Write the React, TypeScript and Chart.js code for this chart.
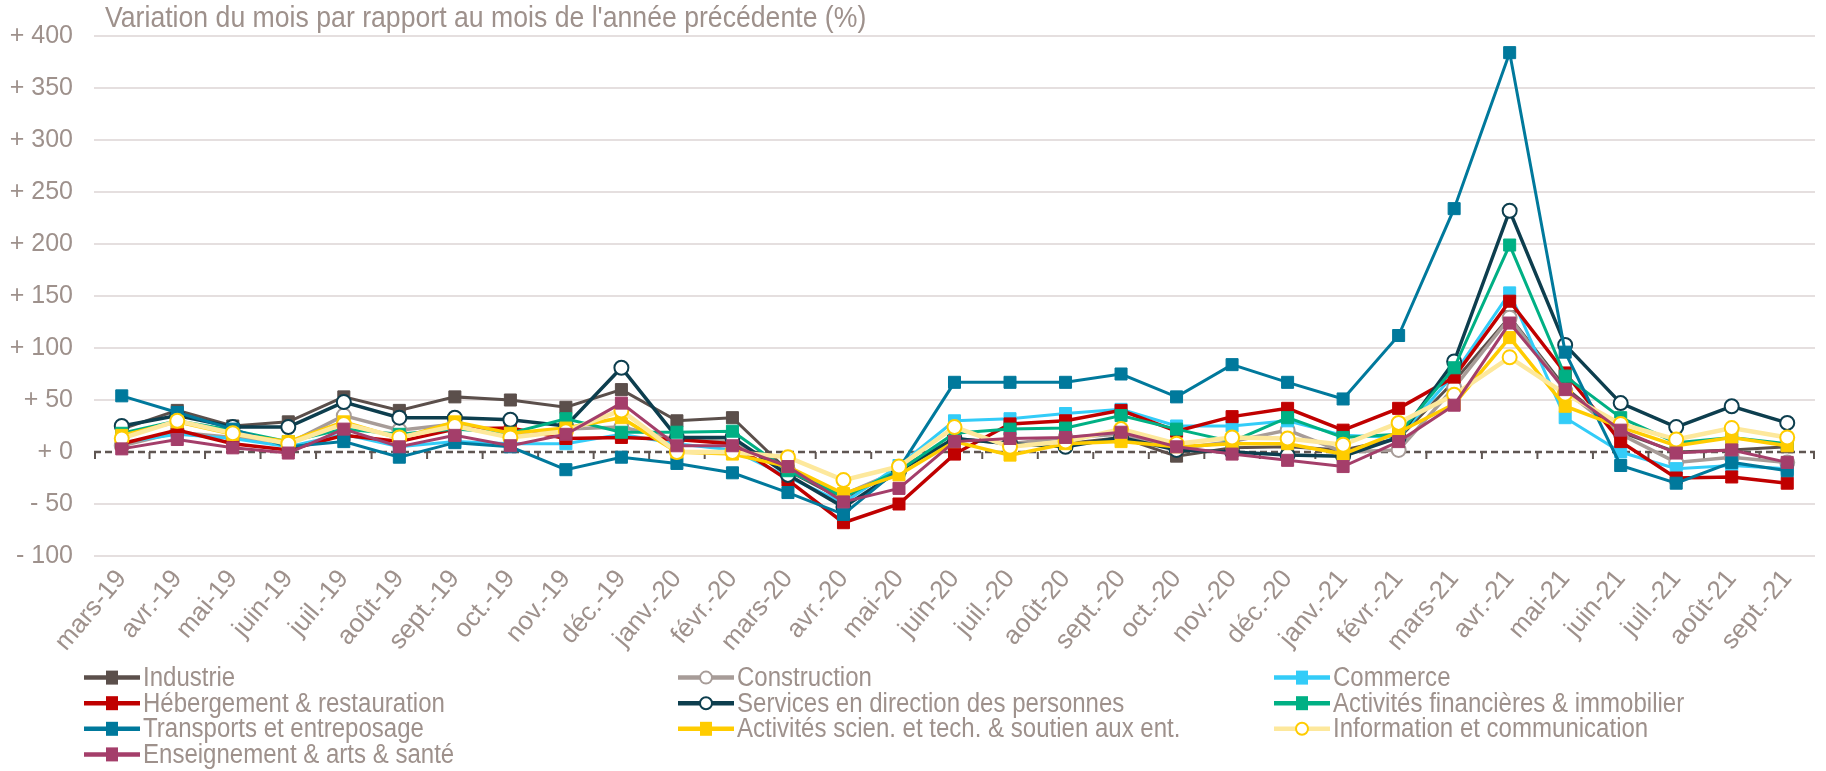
import React, { useEffect, useRef } from 'react';
import { Chart, registerables } from 'chart.js';

Chart.register(...registerables);

const months = ['mars-19', 'avr.-19', 'mai-19', 'juin-19', 'juil.-19', 'août-19', 'sept.-19', 'oct.-19', 'nov.-19', 'déc.-19', 'janv.-20', 'févr.-20', 'mars-20', 'avr.-20', 'mai-20', 'juin-20', 'juil.-20', 'août-20', 'sept.-20', 'oct.-20', 'nov.-20', 'déc.-20', 'janv.-21', 'févr.-21', 'mars-21', 'avr.-21', 'mai-21', 'juin-21', 'juil.-21', 'août-21', 'sept.-21'];

const industrie = [22, 40, 25, 29, 53, 40, 53, 50, 43, 60, 30, 33, -18, -46, -16, 13, 8, 8, 14, -4, 4, 5, 2, 13, 68, 130, 62, 19, 0, 2, 5];
const construction = [6, 19, 14, 8, 35, 21, 27, 16, 22, 24, 12, 10, -18, -41, -18, 13, 8, 14, 17, 3, 10, 21, 0, 2, 62, 129, 59, 17, -10, -5, -10];
const commerce = [9, 17, 13, 5, 17, 5, 10, 8, 8, 17, 8, 2, -24, -49, -13, 30, 32, 37, 41, 25, 25, 30, 16, 14, 75, 153, 33, 0, -16, -13, -16];
const hebergement = [8, 21, 8, 2, 16, 10, 22, 23, 13, 14, 12, 8, -27, -68, -50, -2, 27, 30, 40, 20, 34, 42, 21, 42, 72, 145, 76, 10, -25, -24, -30];
const services = [25, 35, 24, 24, 48, 33, 33, 31, 25, 81, 14, 14, -22, -53, -18, 13, 8, 5, 14, 2, 0, -3, -4, 14, 87, 232, 103, 47, 24, 44, 28];
const financieres = [18, 30, 21, 10, 22, 17, 22, 18, 32, 19, 19, 20, -18, -43, -18, 18, 22, 23, 35, 22, 10, 33, 14, 17, 81, 199, 73, 33, 9, 14, 8];
const transports = [54, 38, 22, 5, 10, -5, 9, 5, -17, -5, -11, -20, -39, -60, -16, 67, 67, 67, 75, 53, 84, 67, 51, 112, 234, 384, 96, -13, -30, -10, -18];
const scien = [16, 29, 17, 10, 29, 13, 29, 18, 23, 33, 0, -2, -14, -40, -22, 10, -3, 8, 10, 5, 8, 8, -2, 19, 46, 110, 44, 24, 6, 14, 6];
const information = [13, 30, 18, 8, 27, 14, 25, 14, 20, 40, 0, 0, -5, -27, -14, 24, 5, 10, 22, 8, 14, 13, 7, 28, 55, 91, 56, 27, 12, 23, 14];
const enseignement = [3, 12, 4, -1, 22, 5, 16, 6, 17, 47, 6, 6, -14, -48, -35, 10, 13, 14, 19, 5, -2, -8, -14, 10, 45, 124, 60, 21, -1, 2, -10];

const yMin = -100;
const yMax = 400;
const yStep = 50;
const titleText = "Variation du mois par rapport au mois de l'année précédente (%)";

const FONT = '"Liberation Sans", Arial, sans-serif';
const TEXT = '#9e918c';

const series = [
  { label: 'Industrie', data: industrie, line: '#5b4f4b', style: 'rect', fill: '#5b4f4b', edge: '#5b4f4b', width: 3 },
  { label: 'Construction', data: construction, line: '#a79c98', style: 'circle', fill: '#ffffff', edge: '#a79c98', width: 3.5 },
  { label: 'Commerce', data: commerce, line: '#33ccf8', style: 'rect', fill: '#33ccf8', edge: '#33ccf8', width: 3 },
  { label: 'Hébergement & restauration', data: hebergement, line: '#c00000', style: 'rect', fill: '#c00000', edge: '#c00000', width: 3.5 },
  { label: 'Services en direction des personnes', data: services, line: '#0d3e4e', style: 'circle', fill: '#ffffff', edge: '#0d3e4e', width: 3.5 },
  { label: 'Activités financières & immobilier', data: financieres, line: '#00b084', style: 'rect', fill: '#00b084', edge: '#00b084', width: 3 },
  { label: 'Transports et entreposage', data: transports, line: '#00799c', style: 'rect', fill: '#00799c', edge: '#00799c', width: 3 },
  { label: 'Activités scien. et tech. & soutien aux ent.', data: scien, line: '#ffcc00', style: 'rect', fill: '#ffcc00', edge: '#ffcc00', width: 3.5 },
  { label: 'Information et communication', data: information, line: '#fde89c', style: 'circle', fill: '#ffffff', edge: '#ffcc00', width: 4.5 },
  { label: 'Enseignement & arts & santé', data: enseignement, line: '#a43e6a', style: 'rect', fill: '#a43e6a', edge: '#a43e6a', width: 3 },
];

function condensedText(ctx: any, text: string, x: number, y: number, size: number, squeeze: number, baseline: string) {
  ctx.save();
  ctx.font = `${size}px ${FONT}`;
  ctx.fillStyle = TEXT;
  ctx.textAlign = 'left';
  ctx.textBaseline = baseline;
  ctx.translate(x, y);
  ctx.scale(squeeze, 1);
  ctx.fillText(text, 0, 0);
  ctx.restore();
}

const titlePlugin = {
  id: 'topTitle',
  afterDraw(chart: any) {
    condensedText(chart.ctx, titleText, chart.chartArea.left + 11, 27, 30, 0.888, 'alphabetic');
  },
};

const zeroLinePlugin = {
  id: 'zeroLine',
  beforeDatasetsDraw(chart: any) {
    const ctx = chart.ctx;
    const xs = chart.scales.x;
    const y0 = chart.scales.y.getPixelForValue(0);
    const { left, right } = chart.chartArea;
    ctx.save();
    ctx.strokeStyle = '#5f5652';
    ctx.lineWidth = 2.5;
    ctx.setLineDash([7, 4]);
    ctx.beginPath();
    ctx.moveTo(left, y0);
    ctx.lineTo(right, y0);
    ctx.stroke();
    ctx.setLineDash([]);
    ctx.lineWidth = 2;
    const n = months.length;
    for (let i = 0; i <= n; i++) {
      let x;
      if (i === 0) x = left + 1;
      else if (i === n) x = right - 1;
      else x = (xs.getPixelForValue(i - 1) + xs.getPixelForValue(i)) / 2;
      ctx.beginPath();
      ctx.moveTo(x, y0);
      ctx.lineTo(x, y0 + 7);
      ctx.stroke();
    }
    ctx.restore();
  },
};

const legendPlugin = {
  id: 'gridLegend',
  afterDraw(chart: any) {
    const ctx = chart.ctx;
    const colX = [84, 678, 1274];
    const rowY = [677.6, 703.2, 728.8, 754.4];
    chart.data.datasets.forEach((ds: any, i: number) => {
      const x = colX[i % 3];
      const y = rowY[Math.floor(i / 3)];
      ctx.save();
      ctx.strokeStyle = ds.borderColor;
      ctx.lineWidth = 4.5;
      ctx.beginPath();
      ctx.moveTo(x, y);
      ctx.lineTo(x + 56, y);
      ctx.stroke();
      const mx = x + 28;
      if (ds.pointStyle === 'circle') {
        ctx.beginPath();
        ctx.arc(mx, y, 6, 0, Math.PI * 2);
        ctx.fillStyle = ds.pointBackgroundColor;
        ctx.fill();
        ctx.lineWidth = 2;
        ctx.strokeStyle = ds.pointBorderColor;
        ctx.stroke();
      } else {
        ctx.fillStyle = ds.pointBackgroundColor;
        ctx.fillRect(mx - 6, y - 7, 12, 14);
      }
      ctx.restore();
      condensedText(ctx, ds.label, x + 59, y + 1, 27, 0.89, 'middle');
    });
  },
};

export default function App() {
  const ref = useRef<HTMLCanvasElement | null>(null);

  useEffect(() => {
    if (!ref.current) return;
    const datasets = series.map((s, i) => ({
      label: s.label,
      data: s.data,
      borderColor: s.line,
      backgroundColor: s.line,
      borderWidth: s.width,
      pointStyle: s.style,
      pointRadius: s.style === 'rect' ? 8.5 : 7,
      pointBorderWidth: s.style === 'rect' ? 1 : 2,
      pointBackgroundColor: s.fill,
      pointBorderColor: s.edge,
      tension: 0,
      order: series.length - i,
      clip: false as any,
    }));
    const chart = new Chart(ref.current, {
      type: 'line',
      data: { labels: months, datasets },
      options: {
        animation: false,
        responsive: true,
        maintainAspectRatio: false,
        events: [],
        layout: { padding: { top: 32, right: 11, bottom: 115, left: 0 } },
        plugins: {
          legend: { display: false },
          title: { display: false },
          tooltip: { enabled: false },
        },
        scales: {
          x: {
            offset: true,
            grid: { display: false, drawTicks: false },
            border: { display: false },
            ticks: {
              color: TEXT,
              font: { family: FONT, size: 26 },
              minRotation: 50,
              maxRotation: 50,
              padding: 8,
              autoSkip: false,
            },
            afterFit: (s: any) => { s.height = 100; },
          },
          y: {
            min: yMin,
            max: yMax,
            ticks: {
              stepSize: yStep,
              color: TEXT,
              font: { family: FONT, size: 25 },
              padding: 21,
              callback: (v: any) => (v > 0 ? `+ ${v}` : v === 0 ? '+ 0' : `- ${Math.abs(v)}`),
            },
            grid: {
              color: (c: any) => (c.tick && c.tick.value === 0 ? 'rgba(0,0,0,0)' : '#e5dfdf'),
              lineWidth: 2,
              drawTicks: false,
            },
            border: { display: false },
            afterFit: (s: any) => { s.width = 94; },
          },
        },
      },
      plugins: [zeroLinePlugin, titlePlugin, legendPlugin],
    });
    return () => chart.destroy();
  }, []);

  return (
    <div style={{ position: 'fixed', left: 0, top: 0, width: 1826, height: 771, background: '#ffffff' }}>
      <canvas ref={ref} />
    </div>
  );
}
